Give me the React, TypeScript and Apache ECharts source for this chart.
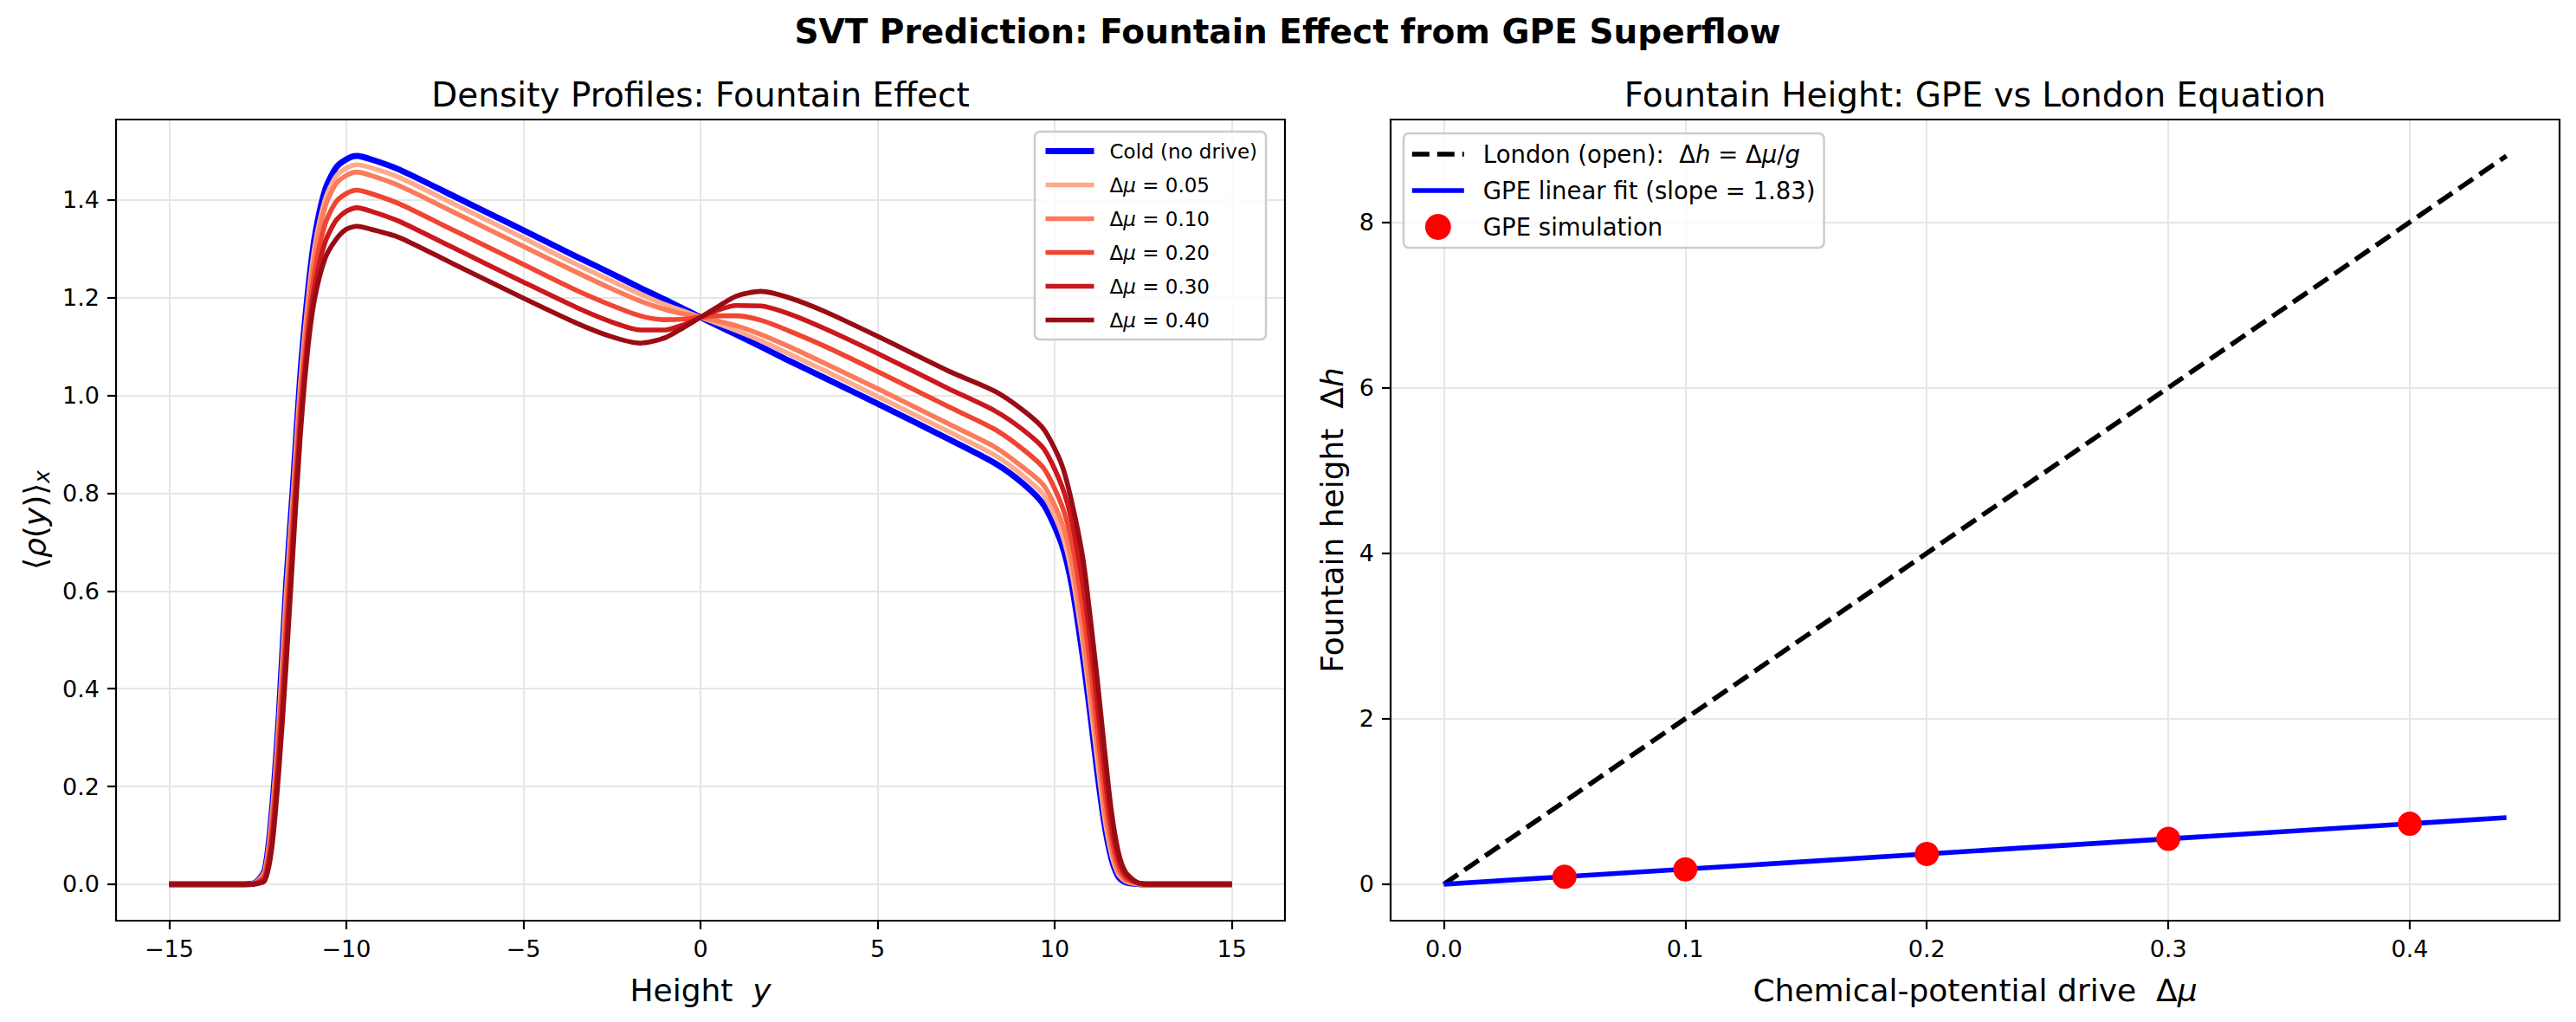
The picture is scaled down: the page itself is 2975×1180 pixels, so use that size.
import React, { useEffect, useRef } from 'react';
import * as echarts from 'echarts';

// ---------------- data ----------------
const heightY = [-15, -13, -12.6, -12.3, -12.1, -11.9, -11.7, -11.5, -11.3, -11.1, -10.9, -10.6, -10.3, -10.0, -9.7, -9.3, -8.5, -7, -5, -3.5, -2.5, -1.7, -1, -0.5, 0, 0.5, 1, 1.7, 2.5, 3.5, 5, 7, 8.3, 9.1, 9.7, 10.2, 10.5, 10.8, 11.0, 11.2, 11.4, 11.6, 11.8, 12.0, 12.3, 12.6, 13, 15];

const rhoCold = [0, 0, 0.002, 0.03, 0.15, 0.35, 0.61, 0.82, 1.04, 1.20, 1.32, 1.42, 1.465, 1.483, 1.49, 1.483, 1.462, 1.409, 1.338, 1.284, 1.249, 1.220, 1.196, 1.178, 1.16, 1.142, 1.125, 1.10, 1.071, 1.036, 0.983, 0.911, 0.862, 0.82, 0.775, 0.695, 0.605, 0.462, 0.35, 0.23, 0.125, 0.053, 0.015, 0.004, 0.001, 0, 0, 0];
const rhoMu005 = [0, 0, 0.002, 0.027, 0.14, 0.335, 0.59, 0.80, 1.02, 1.18, 1.30, 1.40, 1.447, 1.465, 1.472, 1.466, 1.446, 1.393, 1.322, 1.268, 1.234, 1.207, 1.186, 1.173, 1.16, 1.147, 1.133, 1.112, 1.085, 1.051, 0.998, 0.926, 0.878, 0.836, 0.795, 0.718, 0.63, 0.49, 0.375, 0.255, 0.14, 0.062, 0.02, 0.006, 0.001, 0, 0, 0];
const rhoMu010 = [0, 0, 0.002, 0.024, 0.13, 0.32, 0.565, 0.78, 1.0, 1.16, 1.28, 1.385, 1.432, 1.45, 1.457, 1.45, 1.429, 1.376, 1.305, 1.252, 1.218, 1.193, 1.176, 1.167, 1.16, 1.152, 1.143, 1.125, 1.100, 1.066, 1.014, 0.942, 0.895, 0.853, 0.815, 0.74, 0.655, 0.515, 0.40, 0.285, 0.16, 0.075, 0.026, 0.008, 0.002, 0, 0, 0];
const rhoMu020 = [0, 0, 0.001, 0.018, 0.11, 0.29, 0.52, 0.75, 0.97, 1.13, 1.25, 1.35, 1.395, 1.413, 1.42, 1.413, 1.392, 1.339, 1.268, 1.215, 1.184, 1.163, 1.155, 1.156, 1.16, 1.163, 1.163, 1.154, 1.132, 1.101, 1.049, 0.977, 0.931, 0.89, 0.85, 0.775, 0.695, 0.56, 0.45, 0.32, 0.195, 0.095, 0.036, 0.012, 0.003, 0, 0, 0];
const rhoMu030 = [0, 0, 0.001, 0.012, 0.09, 0.26, 0.48, 0.715, 0.94, 1.105, 1.22, 1.313, 1.357, 1.377, 1.384, 1.377, 1.356, 1.303, 1.232, 1.180, 1.150, 1.134, 1.134, 1.144, 1.16, 1.175, 1.184, 1.183, 1.167, 1.137, 1.086, 1.014, 0.969, 0.93, 0.89, 0.815, 0.737, 0.61, 0.50, 0.37, 0.235, 0.12, 0.05, 0.018, 0.004, 0, 0, 0];
const rhoMu040 = [0, 0, 0, 0.008, 0.075, 0.235, 0.446, 0.686, 0.915, 1.085, 1.195, 1.28, 1.318, 1.34, 1.346, 1.34, 1.323, 1.27, 1.199, 1.148, 1.120, 1.107, 1.118, 1.138, 1.16, 1.182, 1.203, 1.213, 1.200, 1.172, 1.121, 1.05, 1.009, 0.97, 0.93, 0.858, 0.776, 0.665, 0.548, 0.42, 0.28, 0.15, 0.065, 0.025, 0.005, 0, 0, 0];

const profileNames = ['Cold (no drive)', 'Δμ = 0.05', 'Δμ = 0.10', 'Δμ = 0.20', 'Δμ = 0.30', 'Δμ = 0.40'];
const profileValues = [rhoCold, rhoMu005, rhoMu010, rhoMu020, rhoMu030, rhoMu040];
const profileColors = ['#0000ff', '#fcab8f', '#fb7b5b', '#f14432', '#cb181d', '#990c13'];
const profileWidths = [7, 5.6, 5.6, 5.6, 5.6, 5.6];

const muLine = [0, 0.44];
const hLondon = [0, 8.8];
const hFit = [0, 0.805];
const muSim = [0.05, 0.1, 0.2, 0.3, 0.4];
const hSim = [0.09, 0.18, 0.367, 0.548, 0.732];

const leftXTicks = [-15, -10, -5, 0, 5, 10, 15];
const leftYTicks = [0, 0.2, 0.4, 0.6, 0.8, 1.0, 1.2, 1.4];
const rightXTicks = [0, 0.1, 0.2, 0.3, 0.4];
const rightYTicks = [0, 2, 4, 6, 8];

// ---------------- layout / style ----------------
const FONT = 'DejaVu Sans';
const GL = { left: 134, top: 138, width: 1350, height: 925 };
const GR = { left: 1606, top: 138, width: 1350, height: 925 };
const TICK_FS = 27;

const minus = (v: number, digits: number) => {
  const s = Math.abs(v).toFixed(digits);
  return v < 0 ? '\u2212' + s : s;
};

const makeAxis = (gridIndex: number, min: number, max: number, splitNumber: number, ticks: number[], digits: number) => ({
  type: 'value',
  gridIndex,
  min,
  max,
  splitNumber,
  axisLine: { show: false, onZero: false },
  axisTick: { show: true, inside: false, length: 10, customValues: ticks, lineStyle: { color: '#000', width: 2.2 } },
  axisLabel: {
    show: true,
    customValues: ticks,
    color: '#000',
    fontFamily: FONT,
    fontSize: TICK_FS,
    margin: 19,
    formatter: (v: number) => minus(v, digits),
  },
  splitLine: { show: true, lineStyle: { color: '#e6e6e6', width: 2 } },
});

const rich = (size: number) => ({
  n: { fontFamily: FONT, fontSize: size, color: '#000', fill: '#000' },
  i: { fontFamily: FONT, fontSize: size, fontStyle: 'italic', color: '#000', fill: '#000' },
  b: { fontFamily: FONT, fontSize: size, fontWeight: 'bold', color: '#000', fill: '#000' },
  s: { fontFamily: FONT, fontSize: Math.round(size * 0.7), fontStyle: 'italic', color: '#000', fill: '#000', padding: [Math.round(size * 0.45), 0, 0, 0] },
});

const rightLegendText: Record<string, string> = {
  'London (open):  Δh = Δμ/g': '{n|London (open):  Δ}{i|h}{n| = Δ}{i|μ}{n|/}{i|g}',
  'GPE linear fit (slope = 1.83)': '{n|GPE linear fit (slope = 1.83)}',
  'GPE simulation': '{n|GPE simulation}',
};

const txt = (x: number, y: number, text: string, size: number, rotation = 0, r = rich(size)) => ({
  type: 'text',
  x,
  y,
  rotation,
  silent: true,
  z: 50,
  style: {
    text,
    rich: r,
    fontFamily: FONT,
    fontSize: size,
    fill: '#000',
    align: 'center',
    verticalAlign: 'middle',
    textAlign: 'center',
    textVerticalAlign: 'middle',
  },
});

const hiddenSymbol = { opacity: 0, color: 'rgba(0,0,0,0)', borderWidth: 0 };

const buildOption = () => {
  const series: any[] = [];
  profileNames.forEach((name, k) => {
    series.push({
      type: 'line',
      name,
      xAxisIndex: 0,
      yAxisIndex: 0,
      data: heightY.map((y, i) => [y, profileValues[k][i]]),
      symbol: 'none',
      showSymbol: false,
      smooth: 0.25,
      lineStyle: { color: profileColors[k], width: profileWidths[k] },
      itemStyle: { color: profileColors[k] },
      z: 2 + k * 0.01,
    });
  });
  series.push({
    type: 'line',
    name: 'London (open):  Δh = Δμ/g',
    xAxisIndex: 1,
    yAxisIndex: 1,
    data: muLine.map((m, i) => [m, hLondon[i]]),
    symbol: 'none',
    showSymbol: false,
    lineStyle: { color: '#000', width: 5.6, type: [20, 9] },
    itemStyle: { color: '#000' },
    z: 2,
  });
  series.push({
    type: 'line',
    name: 'GPE linear fit (slope = 1.83)',
    xAxisIndex: 1,
    yAxisIndex: 1,
    data: muLine.map((m, i) => [m, hFit[i]]),
    symbol: 'none',
    showSymbol: false,
    lineStyle: { color: '#0000ff', width: 5.6 },
    itemStyle: { color: '#0000ff' },
    z: 3,
  });
  series.push({
    type: 'scatter',
    name: 'GPE simulation',
    xAxisIndex: 1,
    yAxisIndex: 1,
    data: muSim.map((m, i) => [m, hSim[i]]),
    symbol: 'circle',
    symbolSize: 28,
    itemStyle: { color: '#ff0000', opacity: 1 },
    z: 4,
  });

  return {
    animation: false,
    backgroundColor: '#ffffff',
    textStyle: { fontFamily: FONT },
    grid: [
      { ...GL, outerBoundsMode: 'none', containLabel: false, show: false },
      { ...GR, outerBoundsMode: 'none', containLabel: false, show: false },
    ],
    xAxis: [
      makeAxis(0, -16.5, 16.5, 5, leftXTicks, 0),
      makeAxis(1, -0.022, 0.462, 5, rightXTicks, 1),
    ],
    yAxis: [
      makeAxis(0, -0.0745, 1.5645, 8, leftYTicks, 1),
      makeAxis(1, -0.44, 9.24, 5, rightYTicks, 0),
    ],
    legend: [
      {
        orient: 'vertical',
        left: 1195,
        top: 152,
        padding: [9, 10, 9, 9],
        itemWidth: 56,
        itemHeight: 14,
        itemGap: 12,
        selectedMode: false,
        backgroundColor: 'rgba(255,255,255,0.8)',
        borderColor: '#cccccc',
        borderWidth: 2.5,
        borderRadius: 6,
        data: profileNames.map((name, k) => ({
          name,
          lineStyle: { width: profileWidths[k] },
          itemStyle: hiddenSymbol,
        })),
        formatter: (name: string) => (name.startsWith('Δμ') ? `{n|Δ}{i|μ}{n|${name.slice(2)}}` : `{n|${name}}`),
        textStyle: { fontFamily: FONT, fontSize: 23, color: '#000', lineHeight: 27, padding: [0, 0, 0, 13], rich: rich(23) },
      },
      {
        orient: 'vertical',
        left: 1621,
        top: 154,
        padding: [9, 10, 9, 7],
        itemWidth: 60,
        itemHeight: 30,
        itemGap: 12,
        selectedMode: false,
        backgroundColor: 'rgba(255,255,255,0.8)',
        borderColor: '#cccccc',
        borderWidth: 2.5,
        borderRadius: 6,
        data: [
          { name: 'London (open):  Δh = Δμ/g', lineStyle: { width: 5.6 }, itemStyle: hiddenSymbol },
          { name: 'GPE linear fit (slope = 1.83)', lineStyle: { width: 5.6 }, itemStyle: hiddenSymbol },
          { name: 'GPE simulation', itemStyle: { color: '#ff0000', opacity: 1 } },
        ],
        formatter: (name: string) => rightLegendText[name] || name,
        textStyle: { fontFamily: FONT, fontSize: 27.5, color: '#000', lineHeight: 30, padding: [0, 0, 0, 17], rich: rich(27.5) },
      },
    ],
    series,
    graphic: [
      {
        type: 'rect',
        silent: true,
        z: 100,
        shape: { x: GL.left, y: GL.top, width: GL.width, height: GL.height },
        style: { fill: 'none', stroke: '#000', lineWidth: 2.2 },
      },
      {
        type: 'rect',
        silent: true,
        z: 100,
        shape: { x: GR.left, y: GR.top, width: GR.width, height: GR.height },
        style: { fill: 'none', stroke: '#000', lineWidth: 2.2 },
      },
      txt(1487, 36, '{b|SVT Prediction: Fountain Effect from GPE Superflow}', 39),
      txt(GL.left + GL.width / 2, 109, '{n|Density Profiles: Fountain Effect}', 39),
      txt(GR.left + GR.width / 2, 109, '{n|Fountain Height: GPE vs London Equation}', 39),
      txt(GL.left + GL.width / 2, 1143, '{n|Height  }{i|y}', 36),
      txt(GR.left + GR.width / 2, 1143, '{n|Chemical-potential drive  Δ}{i|μ}', 36),
      txt(40, GL.top + GL.height / 2, '{n|⟨}{i|ρ}{n|(}{i|y}{n|)⟩}{s|x}', 36, Math.PI / 2),
      txt(1538, GR.top + GR.height / 2, '{n|Fountain height  Δ}{i|h}', 36, Math.PI / 2),
    ],
  };
};

export default function App() {
  const ref = useRef<HTMLDivElement>(null);
  useEffect(() => {
    if (!ref.current) return;
    const chart = echarts.init(ref.current, null, { renderer: 'svg' });
    chart.setOption(buildOption() as any);
    return () => chart.dispose();
  }, []);
  return (
    <div
      ref={ref}
      style={{ position: 'absolute', left: 0, top: 0, width: 2975, height: 1180, background: '#ffffff' }}
    />
  );
}
